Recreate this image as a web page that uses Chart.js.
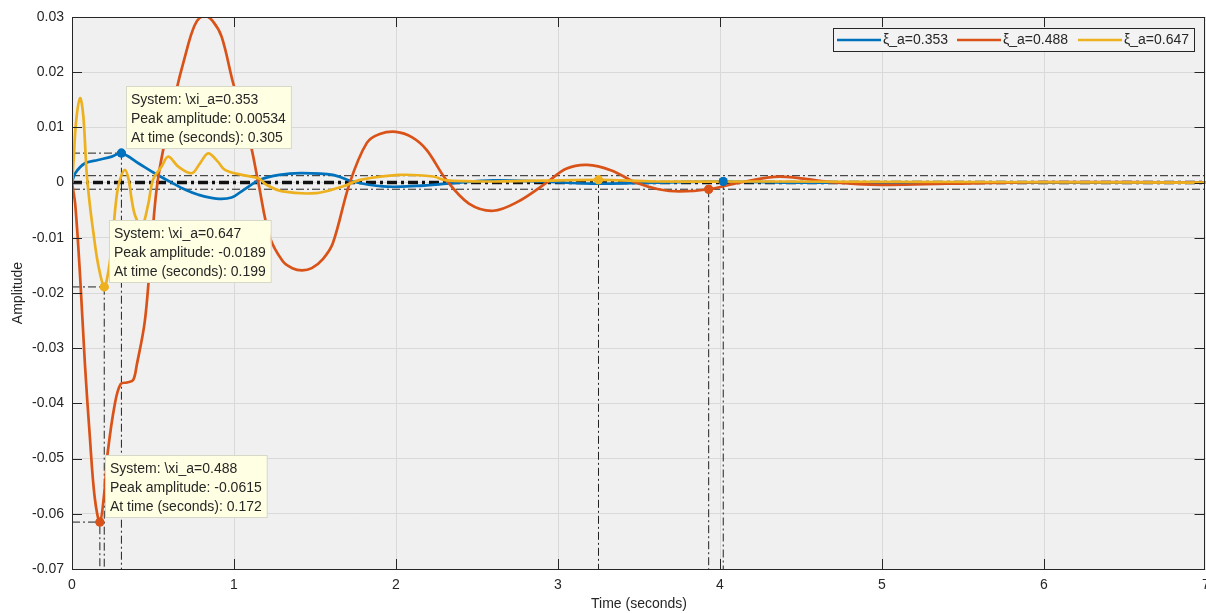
<!DOCTYPE html>
<html>
<head>
<meta charset="utf-8">
<script src="https://cdn.jsdelivr.net/npm/chart.js@4.4.0/dist/chart.umd.min.js"></script>
<style>
  html, body { margin: 0; padding: 0; background: #fff; overflow: hidden; }
  #wrap { width: 1206px; height: 613px; }
</style>
</head>
<body>
<div id="wrap"><canvas id="stepChart" width="1206" height="613"></canvas></div>
<script>
// series names and colours
const seriesNames = ['ξ_a=0.353', 'ξ_a=0.488', 'ξ_a=0.647'];
const tipNames = ['\\xi_a=0.353', '\\xi_a=0.488', '\\xi_a=0.647'];
const seriesColors = ['#0072BD', '#D95319', '#EDB120'];

// step response, xi_a = 0.353 (blue)
const tBlue = [0, 0.02, 0.08, 0.16, 0.245, 0.305, 0.41, 0.51, 0.615, 0.70, 0.78, 0.89, 0.985, 1.06, 1.16, 1.28, 1.41, 1.61, 1.73, 1.92, 2.13, 2.35, 2.6, 2.9, 3.2, 3.6, 4.02, 4.5, 7];
const yBlue = [0, 0.0017, 0.0035, 0.0041, 0.0047, 0.00534, 0.0035, 0.0017, 0, -0.0013, -0.0022, -0.0029, -0.0027, -0.0013, 0.0005, 0.0014, 0.0017, 0.0014, 0.0002, -0.0007, -0.0006, -0.0001, 0.0004, 0.0002, -0.0002, 0, 0.0002, 0, 0];

// step response, xi_a = 0.488 (orange)
const tOrange = [0, 0.02, 0.05, 0.08, 0.11, 0.14, 0.172, 0.2, 0.22, 0.265, 0.3, 0.34, 0.377, 0.40, 0.45, 0.49, 0.53, 0.615, 0.72, 0.77, 0.82, 0.87, 0.924, 0.995, 1.10, 1.15, 1.22, 1.30, 1.36, 1.42, 1.48, 1.55, 1.61, 1.715, 1.82, 1.90, 2.0, 2.1, 2.19, 2.31, 2.45, 2.6, 2.75, 2.93, 3.05, 3.18, 3.33, 3.48, 3.62, 3.75, 3.93, 4.12, 4.37, 4.68, 5.0, 5.4, 6.0, 7];
const yOrange = [0, -0.004, -0.017, -0.033, -0.046, -0.057, -0.0615, -0.056, -0.049, -0.040, -0.0365, -0.0362, -0.0358, -0.033, -0.025, -0.0116, 0.0005, 0.0131, 0.0253, 0.0292, 0.0302, 0.0292, 0.0264, 0.018, 0.0072, 0, -0.0098, -0.0142, -0.0155, -0.0159, -0.0155, -0.0138, -0.011, 0, 0.0072, 0.0088, 0.0092, 0.0082, 0.0059, 0.0005, -0.0038, -0.0051, -0.0035, 0, 0.0025, 0.0032, 0.0022, 0, -0.0012, -0.0016, -0.0012, 0, 0.0011, 0.0001, -0.0004, -0.0002, 0.0001, 0];

// step response, xi_a = 0.647 (yellow)
const tYellow = [0, 0.01, 0.025, 0.05, 0.07, 0.09, 0.11, 0.13, 0.16, 0.199, 0.225, 0.245, 0.275, 0.296, 0.327, 0.35, 0.368, 0.39, 0.43, 0.47, 0.50, 0.553, 0.594, 0.656, 0.739, 0.79, 0.841, 0.90, 0.944, 1.047, 1.15, 1.2, 1.30, 1.51, 1.67, 1.78, 2.02, 2.23, 2.31, 2.6, 3.25, 3.6, 4.2, 7];
const yYellow = [0, 0.004, 0.011, 0.0153, 0.012, 0.002, -0.004, -0.0086, -0.0146, -0.0189, -0.016, -0.0116, -0.0026, 0.0005, 0.0023, 0.0005, -0.003, -0.006, -0.008, -0.004, 0.0005, 0.0029, 0.0047, 0.0029, 0.0017, 0.0035, 0.0053, 0.0038, 0.0023, 0.0014, 0.0008, -0.0004, -0.0016, -0.0019, -0.0007, 0.0005, 0.0014, 0.0011, 0.0004, 0.0002, 0.0005, 0.0002, 0.0002, 0];

// characteristics (order: blue, orange, yellow)
const peakTimes = [0.305, 0.172, 0.199];
const peakAmps = [0.00534, -0.0615, -0.0189];
const peakLabels = ['0.00534', '-0.0615', '-0.0189'];
const settleTimes = [4.02, 3.93, 3.25];
const settleAmps = [0.0002, -0.0012, 0.0005];
const bandLevels = [0.00125, -0.0012];
const steadyLevel = 0;

// axes
const xTicks = [0, 1, 2, 3, 4, 5, 6, 7];
const xTickLabels = ['0', '1', '2', '3', '4', '5', '6', '7'];
const yTicks = [-0.07, -0.06, -0.05, -0.04, -0.03, -0.02, -0.01, 0, 0.01, 0.02, 0.03];
const yTickLabels = ['-0.07', '-0.06', '-0.05', '-0.04', '-0.03', '-0.02', '-0.01', '0', '0.01', '0.02', '0.03'];

const FONT = "'Liberation Sans', Arial, Helvetica, sans-serif";
const TEXT = '#262626';
const GUIDE = '#222';
const DASHDOT = [8, 3, 2, 3];

function pts(ts, ys) {
    return ts.map((t, i) => ({ x: t, y: ys[i] }));
}

function guide(data, width, color, dash) {
    return {
        data: data,
        borderColor: color,
        borderWidth: width,
        borderDash: dash,
        pointRadius: 0,
        pointBorderWidth: 0,
        fill: false,
        tension: 0,
        order: 5,
    };
}

const datasets = [];

// settling bands and steady state
bandLevels.forEach(b => {
    datasets.push(guide([{ x: 0, y: b }, { x: 7, y: b }], 1, GUIDE, DASHDOT));
});
datasets.push(guide([{ x: 0, y: steadyLevel }, { x: 7, y: steadyLevel }], 3.5, '#111', [10, 4, 3, 4]));

// peak and settling guides
peakTimes.forEach((t, i) => {
    datasets.push(guide([{ x: 0, y: peakAmps[i] }, { x: t, y: peakAmps[i] }, { x: t, y: -0.07 }], 1, GUIDE, DASHDOT));
});
settleTimes.forEach((t, i) => {
    datasets.push(guide([{ x: t, y: settleAmps[i] }, { x: t, y: -0.07 }], 1, GUIDE, DASHDOT));
});

// response curves; the peak and settling samples get a filled marker
const curveTimes = [tBlue, tOrange, tYellow];
const curveValues = [yBlue, yOrange, yYellow];
const curveIndex = [];
const markedIndex = [];
curveTimes.forEach((ts, i) => {
    const marked = [ts.indexOf(peakTimes[i]), ts.indexOf(settleTimes[i])];
    markedIndex.push(marked);
    curveIndex.push(datasets.length);
    datasets.push({
        data: pts(ts, curveValues[i]),
        borderColor: seriesColors[i],
        borderWidth: 2.7,
        pointRadius: c => (marked.includes(c.dataIndex) ? 4.5 : 0),
        pointBorderWidth: 0,
        pointBackgroundColor: seriesColors[i],
        fill: false,
        tension: 0.35,
        order: 4 - i,
    });
});

const bgPlugin = {
    id: 'bg',
    beforeDraw(chart) {
        const { ctx, chartArea: a } = chart;
        ctx.save();
        ctx.fillStyle = '#f0f0f0';
        ctx.fillRect(a.left, a.top, a.right - a.left, a.bottom - a.top);
        ctx.restore();
    }
};

const frame = {
    id: 'frame',
    afterDatasetsDraw(chart) {
        // bring the markers above every curve
        curveIndex.forEach((d, i) => {
            const meta = chart.getDatasetMeta(d);
            markedIndex[i].forEach(k => meta.data[k].draw(chart.ctx, chart.chartArea));
        });
    },
    afterDraw(chart) {
        const { ctx, chartArea: a, scales } = chart;
        ctx.save();

        // axis box and inward ticks
        ctx.strokeStyle = TEXT;
        ctx.lineWidth = 1;
        ctx.strokeRect(a.left + 0.5, a.top + 0.5, a.right - a.left - 2, a.bottom - a.top);
        ctx.beginPath();
        xTicks.forEach(v => {
            const x = Math.min(Math.round(scales.x.getPixelForValue(v)), a.right - 2) + 0.5;
            ctx.moveTo(x, a.bottom); ctx.lineTo(x, a.bottom - 10);
            ctx.moveTo(x, a.top); ctx.lineTo(x, a.top + 10);
        });
        yTicks.forEach(v => {
            const y = Math.round(scales.y.getPixelForValue(v)) + 0.5;
            ctx.moveTo(a.left, y); ctx.lineTo(a.left + 10, y);
            ctx.moveTo(a.right - 1.5, y); ctx.lineTo(a.right - 11.5, y);
        });
        ctx.stroke();

        // legend
        const lx = 833, ly = 28, lw = 361, lh = 23;
        ctx.fillStyle = '#f3f3f3';
        ctx.fillRect(lx, ly, lw, lh);
        ctx.strokeStyle = TEXT;
        ctx.strokeRect(lx + 0.5, ly + 0.5, lw, lh);
        ctx.font = '14px ' + FONT;
        ctx.textBaseline = 'middle';
        ctx.textAlign = 'left';
        const starts = [837, 957, 1078];
        seriesNames.forEach((n, i) => {
            ctx.strokeStyle = seriesColors[i];
            ctx.lineWidth = 2.7;
            ctx.beginPath();
            ctx.moveTo(starts[i], ly + 12); ctx.lineTo(starts[i] + 44, ly + 12);
            ctx.stroke();
            ctx.fillStyle = TEXT;
            ctx.fillText(n, starts[i] + 46, ly + 12.5);
        });

        // data tips
        ctx.lineWidth = 1;
        peakTimes.forEach((t, i) => {
            const px = scales.x.getPixelForValue(t);
            const py = scales.y.getPixelForValue(peakAmps[i]);
            const lines = ['System: ' + tipNames[i], 'Peak amplitude: ' + peakLabels[i], 'At time (seconds): ' + t];
            const w = Math.max(...lines.map(s => ctx.measureText(s).width)) + 10;
            const h = 62;
            const bx = Math.round(px + 5), by = Math.round(py - 5 - h);
            ctx.fillStyle = '#ffffe3';
            ctx.fillRect(bx, by, w, h);
            ctx.strokeStyle = '#d8d8c8';
            ctx.strokeRect(bx + 0.5, by + 0.5, w, h);
            ctx.fillStyle = TEXT;
            lines.forEach((s, k) => ctx.fillText(s, bx + 5, by + 14 + k * 19));
        });
        ctx.restore();
    }
};

new Chart(document.getElementById('stepChart').getContext('2d'), {
    type: 'line',
    data: { datasets: datasets },
    plugins: [bgPlugin, frame],
    options: {
        responsive: false,
        animation: false,
        maintainAspectRatio: false,
        layout: { padding: { top: 17, right: 0, left: 0, bottom: 0 } },
        plugins: { legend: { display: false }, tooltip: { enabled: false } },
        scales: {
            x: {
                type: 'linear',
                min: 0,
                max: 7,
                afterBuildTicks: s => { s.ticks = xTicks.map(v => ({ value: v })); },
                afterFit: s => { s.height = 44; s.paddingLeft = 0; s.paddingRight = 0; },
                ticks: {
                    callback: (v, i) => xTickLabels[i],
                    font: { family: FONT, size: 14 },
                    color: TEXT,
                    padding: 8,
                    maxRotation: 0,
                },
                grid: { color: '#d9d9d9', drawTicks: false },
                border: { display: false },
                title: {
                    display: true,
                    text: 'Time (seconds)',
                    font: { family: FONT, size: 14 },
                    color: TEXT,
                    padding: { top: 0, bottom: 0 },
                },
            },
            y: {
                type: 'linear',
                min: -0.07,
                max: 0.03,
                afterBuildTicks: s => { s.ticks = yTicks.map(v => ({ value: v })); },
                afterFit: s => { s.width = 72; },
                ticks: {
                    callback: (v, i) => yTickLabels[i],
                    font: { family: FONT, size: 14 },
                    color: TEXT,
                    padding: 8,
                },
                grid: { color: '#d9d9d9', drawTicks: false },
                border: { display: false },
                title: {
                    display: true,
                    text: 'Amplitude',
                    font: { family: FONT, size: 14 },
                    color: TEXT,
                    padding: { top: 10, bottom: 0 },
                },
            },
        },
    },
});
</script>
</body>
</html>
